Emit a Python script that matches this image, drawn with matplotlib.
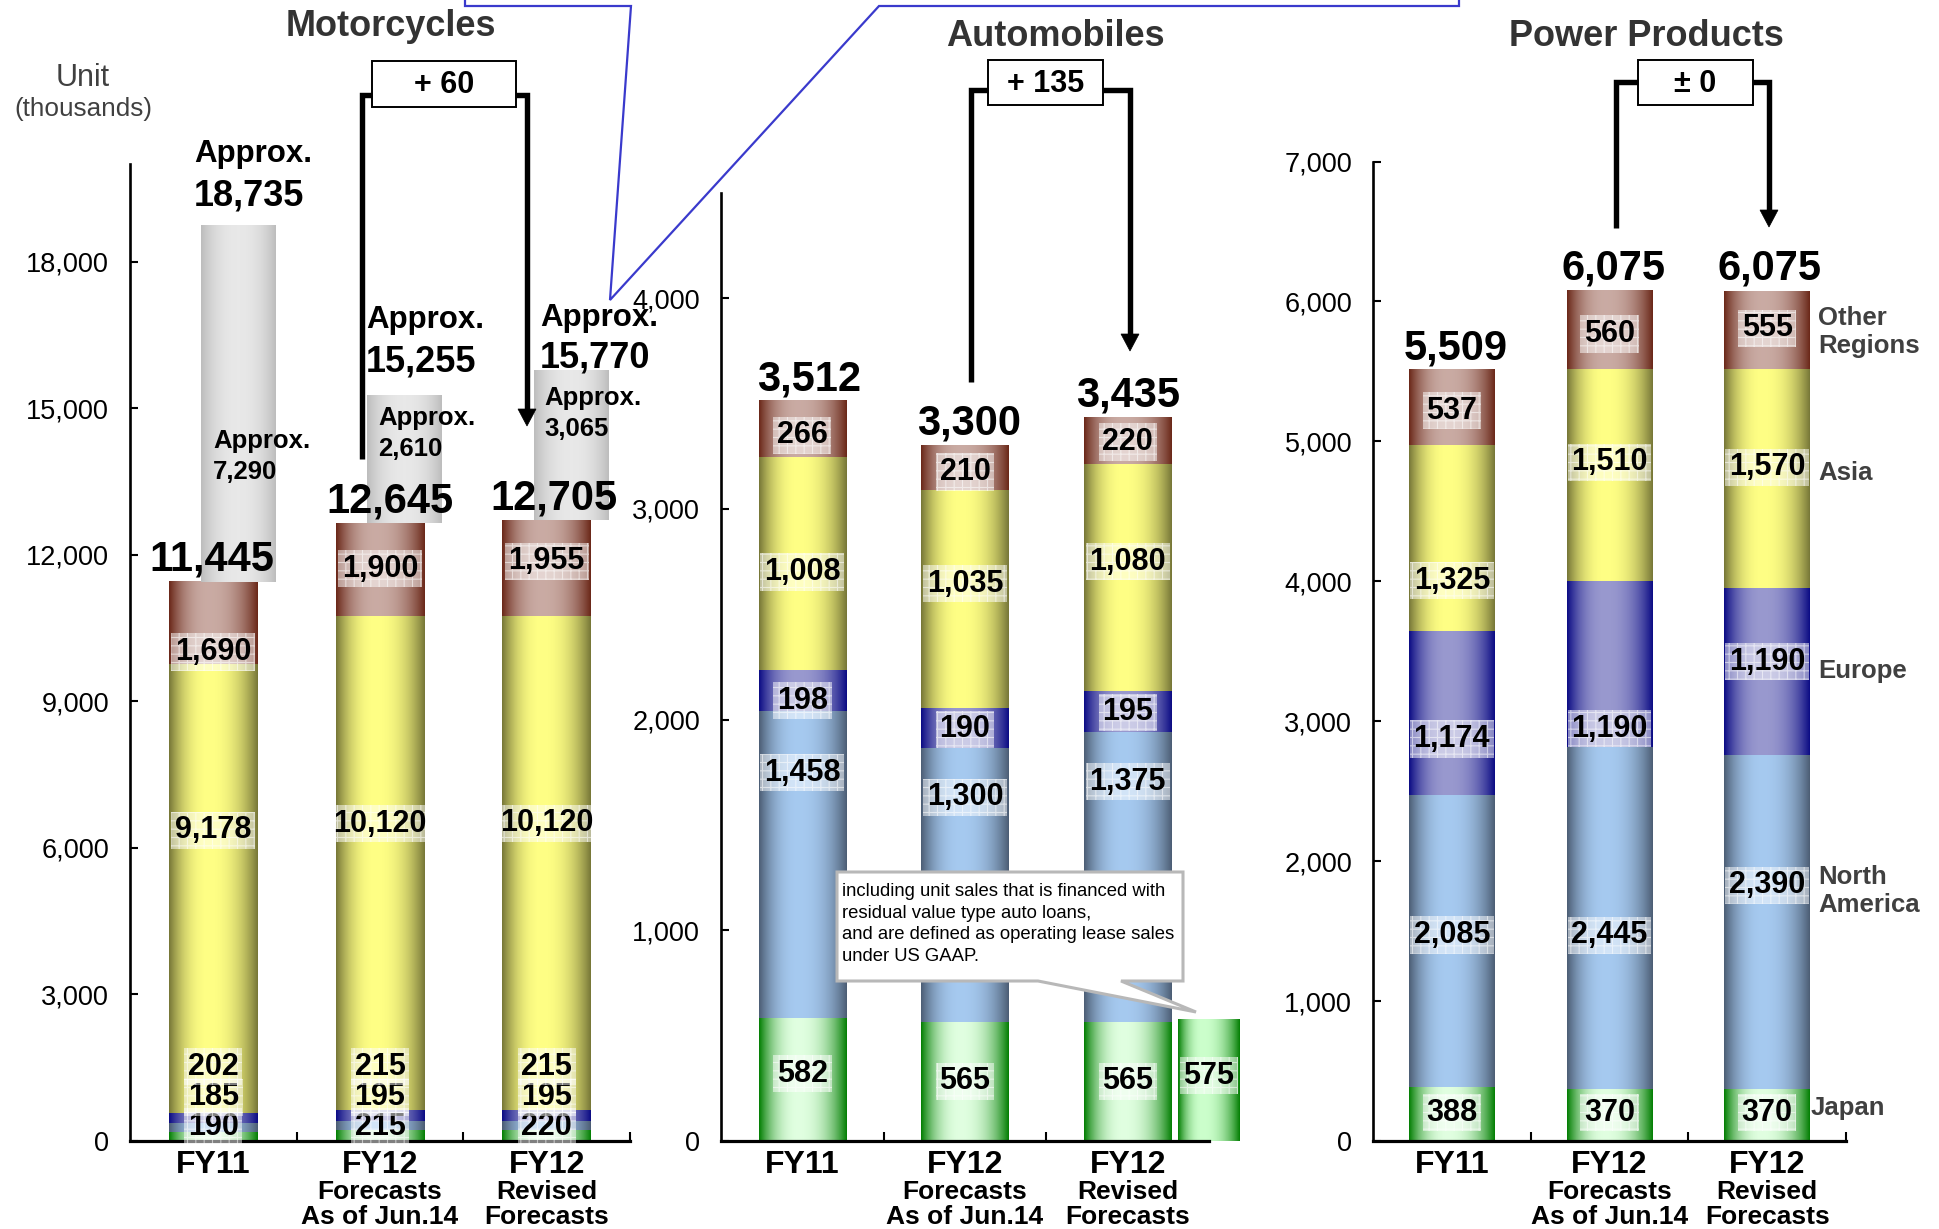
import numpy as np
import matplotlib
matplotlib.use('Agg')
import matplotlib.pyplot as plt
from matplotlib.patches import Polygon, Rectangle
from matplotlib.ticker import FuncFormatter, FixedLocator

plt.rcParams['font.family'] = ['Liberation Sans', 'DejaVu Sans']
plt.rcParams['hatch.linewidth'] = 0.8

# ---------------- data ----------------
cat_main = ['FY11', 'FY12', 'FY12']
cat_sub = ['', 'Forecasts\nAs of Jun.14', 'Revised\nForecasts']
region_labels = ['Japan', 'North\nAmerica', 'Europe', 'Asia', 'Other\nRegions']
titles = ['Motorcycles', 'Automobiles', 'Power Products']
deltas = ['+ 60', '+ 135', '± 0']

moto_japan = [190, 215, 220]
moto_na = [185, 195, 195]
moto_europe = [202, 215, 215]
moto_asia = [9178, 10120, 10120]
moto_other = [1690, 1900, 1955]
moto_total = [11445, 12645, 12705]
moto_approx_total = [18735, 15255, 15770]
moto_approx_extra = [7290, 2610, 3065]

auto_japan = [582, 565, 565]
auto_na = [1458, 1300, 1375]
auto_europe = [198, 190, 195]
auto_asia = [1008, 1035, 1080]
auto_other = [266, 210, 220]
auto_total = [3512, 3300, 3435]
auto_lease_japan = [575]

power_japan = [388, 370, 370]
power_na = [2085, 2445, 2390]
power_europe = [1174, 1190, 1190]
power_asia = [1325, 1510, 1570]
power_other = [537, 560, 555]
power_total = [5509, 6075, 6075]

callout_text = ("including unit sales that is financed with\n"
                "residual value type auto loans,\n"
                "and are defined as operating lease sales\n"
                "under US GAAP.")

# ---------------- styles ----------------
COL = {
    'japan': ((0.02, 0.50, 0.02), (0.88, 1.00, 0.88)),
    'na': ((0.30, 0.37, 0.46), (0.65, 0.79, 0.94)),
    'europe': ((0.05, 0.05, 0.52), (0.60, 0.60, 0.81)),
    'asia': ((0.47, 0.47, 0.22), (1.00, 1.00, 0.52)),
    'other': ((0.42, 0.16, 0.10), (0.79, 0.67, 0.64)),
    'grey': ((0.74, 0.74, 0.74), (0.91, 0.91, 0.91)),
}

W, H = 1939, 1229
fig = plt.figure(figsize=(W / 100, H / 100), dpi=100)


def px_axes(l, r, b, t):
    return fig.add_axes([l / W, 1 - b / H, (r - l) / W, (b - t) / H])


def grad_img(edge, center, peak=0.45, n=96):
    t = np.linspace(0, 1, n)
    d = np.where(t < peak, (peak - t) / peak, (t - peak) / (1 - peak))
    f = 1 - np.clip(d, 0, 1) ** 2.3
    e = np.array(edge)
    c = np.array(center)
    img = e[None, :] + (c - e)[None, :] * f[:, None]
    return img[None, :, :]


def paint(ax, bars, key, peak=0.45, clip=True):
    edge, center = COL[key]
    for p in bars:
        x0, y0, w, h = p.get_x(), p.get_y(), p.get_width(), p.get_height()
        im = ax.imshow(grad_img(edge, center, peak), extent=[x0, x0 + w, y0, y0 + h],
                       aspect='auto', interpolation='bilinear', zorder=2)
        if not clip:
            im.set_clip_on(False)


LBL_BOX = dict(boxstyle='square,pad=0.12', fc=(1, 1, 1, 0.5), ec=(1, 1, 1, 0.55),
               lw=0, hatch='++')


def seg_label(ax, x, y, v, fs=22):
    ax.text(x, y, f'{v:,}', ha='center', va='center', fontsize=fs,
            fontweight='bold', color='black', zorder=6, bbox=LBL_BOX)


def setup_axis(ax, ymax, yticks, xticks):
    ax.set_xlim(-0.5, 2.5)
    ax.set_ylim(0, ymax)
    for s in ['top', 'right']:
        ax.spines[s].set_visible(False)
    ax.spines['left'].set_linewidth(1.9)
    ax.spines['bottom'].set_linewidth(2.3)
    ax.patch.set_alpha(0)
    ax.yaxis.set_major_locator(FixedLocator(yticks))
    ax.yaxis.set_major_formatter(FuncFormatter(lambda v, _: f'{int(v):,}'))
    ax.xaxis.set_major_locator(FixedLocator(xticks))
    ax.set_xticklabels([])
    ax.tick_params(axis='y', direction='in', length=6, width=1.5, pad=15,
                   labelsize=19.5, colors='black')
    ax.tick_params(axis='x', direction='in', length=6.5, width=1.5)
    for i in range(3):
        ax.annotate(cat_main[i], xy=(i, 0), xycoords=('data', 'axes fraction'),
                    xytext=(0, -17), textcoords='offset points', ha='center',
                    va='center', fontsize=23, fontweight='bold', annotation_clip=False)
        for k, line in enumerate(cat_sub[i].split('\n')):
            if line:
                ax.annotate(line, xy=(i, 0), xycoords=('data', 'axes fraction'),
                            xytext=(0, -36.5 - 18.5 * k), textcoords='offset points',
                            ha='center', va='center', fontsize=19, fontweight='bold',
                            annotation_clip=False)


def stack(ax, x, series, keys, width):
    bottom = np.zeros(len(x))
    out = []
    for vals, key in zip(series, keys):
        vals = np.array(vals, dtype=float)
        bars = ax.bar(x, vals, width, bottom=bottom, color='none', edgecolor='none', zorder=2)
        paint(ax, bars, key)
        out.append((vals, bottom.copy()))
        bottom = bottom + vals
    return out


def totals(ax, x, tot, dx, dy=8):
    for xi, t, d in zip(x, tot, dx):
        ax.annotate(f'{t:,}', xy=(xi, t), xytext=(d, dy), textcoords='offset points',
                    ha='center', va='baseline', fontsize=30, fontweight='bold', zorder=7)


keys = ['japan', 'na', 'europe', 'asia', 'other']
x = np.arange(3)

# ---------------- Motorcycles ----------------
axm = px_axes(130, 630, 1141, 164)
wm = 0.53
segs = stack(axm, x, [moto_japan, moto_na, moto_europe, moto_asia, moto_other], keys, wm)
grey = axm.bar(x + 0.15, moto_approx_extra, 0.45, bottom=moto_total,
               color='none', edgecolor='none', zorder=2)
paint(axm, grey, 'grey', peak=0.5)
setup_axis(axm, 20000, np.arange(0, 18001, 3000), [0.5, 1.5, 2.5])
# small segments labels stacked near the base (pixel offsets -> points)
small_off = [10, 31.5, 53.5]
for k, vals in enumerate([moto_japan, moto_na, moto_europe]):
    for i in range(3):
        axm.annotate(f'{vals[i]:,}', xy=(i, 0), xytext=(0, small_off[k]),
                     textcoords='offset points', ha='center', va='center', fontsize=22,
                     fontweight='bold', zorder=6, bbox=LBL_BOX)
moto_frac = {3: [0.63, 0.58, 0.58], 4: [0.15, 0.51, 0.57]}
for s, fr in moto_frac.items():
    vals, bot = segs[s]
    for i in range(3):
        seg_label(axm, i, bot[i] + fr[i] * vals[i], int(vals[i]))
totals(axm, x, moto_total, dx=[-1, 7, 5], dy=8)
# Approx labels above grey bars
ap_dx = [-5, -1, 4.3]
ap_val = [21.6, 24.5, 9.4]
ap_app = [52, 54.7, 38]
for i, p in enumerate(grey):
    gl = p.get_x()
    gt = moto_approx_total[i]
    axm.annotate('Approx.', xy=(gl, gt), xytext=(ap_dx[i], ap_app[i]), textcoords='offset points',
                 ha='left', va='center', fontsize=22.5, fontweight='bold', zorder=7)
    axm.annotate(f'{moto_approx_total[i]:,}', xy=(gl, gt), xytext=(ap_dx[i], ap_val[i]),
                 textcoords='offset points', ha='left', va='center', fontsize=26,
                 fontweight='bold', zorder=7)
in_frac = [0.31, 0.585, 0.61]
in_dx = [9, 8, 7]
for i, p in enumerate(grey):
    gl = p.get_x()
    yv = moto_total[i] + in_frac[i] * moto_approx_extra[i]
    axm.annotate('Approx.', xy=(gl, yv), xytext=(in_dx[i], 22), textcoords='offset points',
                 ha='left', va='center', fontsize=18.5, fontweight='bold', zorder=7)
    axm.annotate(f'{moto_approx_extra[i]:,}', xy=(gl, yv), xytext=(in_dx[i], 0),
                 textcoords='offset points', ha='left', va='center', fontsize=18.5,
                 fontweight='bold', zorder=7)

# ---------------- Automobiles ----------------
axa = px_axes(721, 1209, 1141, 193)
wa = 0.535
segs = stack(axa, x, [auto_japan, auto_na, auto_europe, auto_asia, auto_other], keys, wa)
lease = axa.bar([2.5], auto_lease_japan, 0.38, color='none', edgecolor='none', zorder=2)
for p in lease:
    p.set_clip_on(False)
edge, center = COL['japan']
for p in lease:
    im = axa.imshow(grad_img(edge, (0.80, 1.0, 0.80), 0.4),
                    extent=[p.get_x(), p.get_x() + p.get_width(), 0, p.get_height()],
                    aspect='auto', interpolation='bilinear', zorder=2)
    im.set_clip_on(False)
setup_axis(axa, 4500, np.arange(0, 4001, 1000), [0.5, 1.5])
auto_frac = [[0.55, 0.5, 0.5], [0.8, 0.82, 0.83], [0.25, 0.47, 0.49],
             [0.46, 0.57, 0.57], [0.39, 0.41, 0.47]]
for s in range(5):
    vals, bot = segs[s]
    for i in range(3):
        seg_label(axa, i, bot[i] + auto_frac[s][i] * vals[i], int(vals[i]))
for p, v in zip(lease, auto_lease_japan):
    seg_label(axa, p.get_x() + p.get_width() / 2, 0.54 * v, v)
totals(axa, x, auto_total, dx=[5, 3, 0], dy=8)

# ---------------- Power Products ----------------
axp = px_axes(1373, 1846, 1141, 161.5)
wp = 0.545
segs = stack(axp, x, [power_japan, power_na, power_europe, power_asia, power_other], keys, wp)
setup_axis(axp, 7000, np.arange(0, 7001, 1000), [0.5, 1.5, 2.5])
pow_frac = [[0.52, 0.55, 0.55], [0.52, 0.45, 0.61], [0.34, 0.11, 0.56],
            [0.27, 0.56, 0.55], [0.46, 0.45, 0.52]]
for s in range(5):
    vals, bot = segs[s]
    for i in range(3):
        seg_label(axp, i, bot[i] + pow_frac[s][i] * vals[i], int(vals[i]))
totals(axp, x, power_total, dx=[3, 3, 2], dy=8)
reg_dx = [0, 6, 6, 6, 6]
reg_dy = [3, -4, -7, -4, -3]
for s in range(5):
    vals, bot = segs[s]
    yv = bot[2] + pow_frac[s][2] * vals[2]
    axp.annotate(region_labels[s], xy=(2 + wp / 2, yv), xytext=(reg_dx[s], reg_dy[s]),
                 textcoords='offset points', ha='left', va='center', fontsize=18.5,
                 fontweight='bold', color='#404040', annotation_clip=False)

# ---------------- overlay decorations (pixel coordinates) ----------------
ov = fig.add_axes([0, 0, 1, 1])
ov.set_xlim(0, W)
ov.set_ylim(H, 0)
ov.axis('off')
ov.set_zorder(10)
ov.patch.set_alpha(0)

# titles & unit
ov.text(391, 35.5, titles[0], ha='center', va='baseline', fontsize=26, fontweight='bold', color='#333333')
ov.text(1055, 45.5, titles[1], ha='center', va='baseline', fontsize=26, fontweight='bold', color='#333333')
ov.text(1646, 45.5, titles[2], ha='center', va='baseline', fontsize=26, fontweight='bold', color='#333333')
ov.text(83, 78, 'Unit', ha='center', va='center', fontsize=22, color='#404040')
ov.text(83, 109, '(thousands)', ha='center', va='center', fontsize=18.8, color='#404040')

# blue connector
ov.plot([465, 465, 631, 610, 879, 1459, 1459], [0, 6, 6, 300, 6, 6, 0],
        color='#3a3acc', lw=1.6, solid_joinstyle='miter')

# brackets
brk = [
    # left x, left bottom, top y, box l, box t, box r, box b, right x, arrow tip
    (362, 459, 95, 372, 61, 516, 107, 527, 426),
    (971, 382, 90, 987.5, 60, 1103, 105, 1130, 351),
    (1616, 228, 82, 1638, 60, 1753, 105, 1769, 227),
]
for (xl, yb, yt, bl, bt, br, bb, xr, tip), txt in zip(brk, deltas):
    ov.plot([xl, xl, bl], [yb, yt, yt], color='black', lw=3.9, solid_joinstyle='miter',
            solid_capstyle='butt')
    ov.plot([br, xr, xr], [yt, yt, tip - 15], color='black', lw=3.9, solid_joinstyle='miter',
            solid_capstyle='butt')
    ov.add_patch(Polygon([(xr - 9, tip - 17), (xr + 9, tip - 17), (xr, tip)], closed=True,
                         fc='black', ec='black', lw=0.5))
    ov.add_patch(Rectangle((bl, bt), br - bl, bb - bt, fc='white', ec='black', lw=1.4))
    ov.text((bl + br) / 2, (bt + bb) / 2 + 1, txt, ha='center', va='center', fontsize=22,
            fontweight='bold')

# callout
ov.add_patch(Polygon([(837, 872), (1183, 872), (1183, 981), (1121, 981), (1196, 1012),
                      (1038, 981), (837, 981)], closed=True, fc='white', ec='#b8b8b8', lw=2.2))
ov.text(842, 883, callout_text, ha='left', va='top', fontsize=13.3, linespacing=1.36,
        color='black')

fig.savefig('out.png', dpi=100)
